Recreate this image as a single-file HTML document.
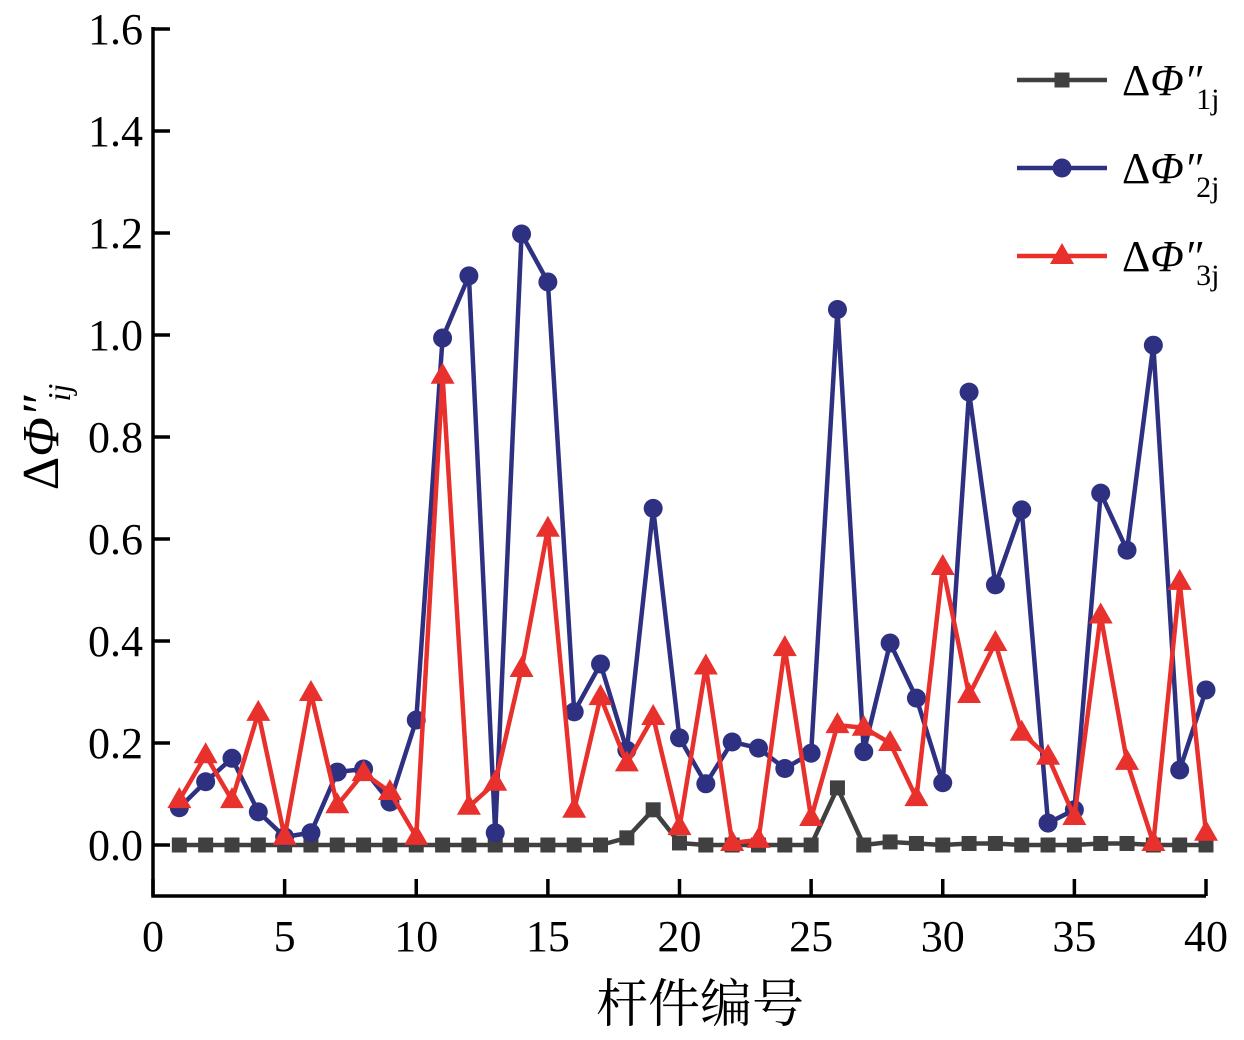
<!DOCTYPE html>
<html><head><meta charset="utf-8"><style>
body{margin:0;background:#fff}
svg{display:block;font-family:"Liberation Serif","Noto Serif CJK SC",serif}
</style></head><body>
<svg id="chart" width="1244" height="1040" viewBox="0 0 1244 1040" xmlns="http://www.w3.org/2000/svg">
<g id="axes"></g>
<g id="series"></g>
<g id="legend"></g>
<text x="700" y="1022" font-size="52" text-anchor="middle" font-family="'Noto Serif CJK SC','Noto Sans CJK SC',serif">杆件编号</text>
<text transform="translate(58,437) rotate(-90)" font-size="52" text-anchor="middle">Δ<tspan font-style="italic">Φ″</tspan><tspan font-style="italic" font-size="32" dx="-6" dy="12">ij</tspan></text>
</svg>
<script>
const members = Array.from({length:40},(_,i)=>i+1);
const phi1 = [0,0,0,0,0,0,0,0,0,0,0,0,0,0,0,0,0,0.014,0.069,0.004,0,0,0,0,0,0.112,0,0.006,0.003,0,0.003,0.003,0,0,0,0.003,0.003,0,0,0];
const phi2 = [0.073,0.124,0.17,0.065,0.016,0.024,0.143,0.149,0.084,0.245,0.994,1.116,0.024,1.198,1.104,0.261,0.355,0.186,0.66,0.21,0.12,0.202,0.19,0.15,0.18,1.05,0.183,0.396,0.288,0.122,0.888,0.51,0.657,0.043,0.069,0.69,0.578,0.98,0.147,0.304];
const phi3 = [0.088,0.176,0.088,0.259,0.016,0.298,0.078,0.141,0.104,0.016,0.92,0.075,0.122,0.345,0.62,0.069,0.29,0.16,0.251,0.035,0.35,0.004,0.01,0.386,0.053,0.235,0.23,0.2,0.092,0.545,0.294,0.396,0.22,0.173,0.055,0.45,0.163,0.004,0.516,0.024];
const xTicks = [0,5,10,15,20,25,30,35,40];
const yTicks = [0.0,0.2,0.4,0.6,0.8,1.0,1.2,1.4,1.6];
const NS="http://www.w3.org/2000/svg";
const X0=153,X1=1206,Y0=845,YT=29;
const xs=v=>X0+(X1-X0)*v/40;
const ys=v=>Y0-(Y0-YT)*v/1.6;
const YB=ys(-0.1);
function mk(tag,attrs,parent){const e=document.createElementNS(NS,tag);for(const k in attrs)e.setAttribute(k,attrs[k]);parent.appendChild(e);return e;}
const ax=document.getElementById('axes');
let l=mk('path',{d:`M${X0},${YT-2}V${YB}H${X1}`,fill:'none',stroke:'#000','stroke-width':3.5},ax);


yTicks.forEach(t=>{
  const tk=mk('line',{x1:X0,x2:X0+17,y1:ys(t),y2:ys(t),stroke:'#000','stroke-width':3.5},ax);
  
  
  const tx=mk('text',{x:X0-10,y:ys(t)+15,'font-size':44,'text-anchor':'end'},ax);
  tx.textContent=t.toFixed(1);
  
  
});
xTicks.forEach(t=>{
  const tk=mk('line',{x1:xs(t),x2:xs(t),y1:YB,y2:YB-17,stroke:'#000','stroke-width':3.5},ax);
  
  
  const tx=mk('text',{x:xs(t),y:YB+55,'font-size':44,'text-anchor':'middle'},ax);
  tx.textContent=t;
  
  
});
const sg=document.getElementById('series');
function marker(type,x,y,color,parent,s){
  let m;
  if(type==='sq') m=mk('rect',{x:x-s,y:y-s,width:2*s,height:2*s,fill:color},parent);
  else if(type==='c') m=mk('circle',{cx:x,cy:y,r:s,fill:color},parent);
  else m=mk('polygon',{points:`${x},${y-s*1.3} ${x-s*1.2},${y+s*0.8} ${x+s*1.2},${y+s*0.8}`,fill:color},parent);
  return m;
}
const defs=[[phi1,'#404040','sq','series-phi1'],[phi2,'#2e3181','c','series-phi2'],[phi3,'#e8302c','t','series-phi3']];
defs.forEach(([data,color,type,name])=>{
  const g=mk('g',{},sg);
  
  
  const p=mk('polyline',{points:data.map((v,i)=>xs(members[i])+','+ys(v)).join(' '),fill:'none',stroke:color,'stroke-width':4.5,'stroke-linejoin':'round'},g);
  
  
  data.forEach((v,i)=>{
    const m=marker(type,xs(members[i]),ys(v),color,g,type==='sq'?7.5:(type==='c'?9.5:10));
    
    
  });
});
const lg=document.getElementById('legend');
const subs=['1j','2j','3j'];
defs.forEach(([d,color,type,name],i)=>{
  const y=[80,168,256][i];
  const g=mk('g',{},lg);
  
  
  mk('line',{x1:1017,x2:1107,y1:y,y2:y,stroke:color,'stroke-width':4.5},g);
  marker(type,1062,y,color,g,type==='sq'?7.5:(type==='c'?9.5:10));
  const t=mk('text',{x:1122,y:y+15,'font-size':44},g);
  t.innerHTML='Δ<tspan font-style="italic">Φ″</tspan><tspan font-size="30" dx="-6" dy="14">'+subs[i]+'</tspan>';
});
</script>
</body></html>
